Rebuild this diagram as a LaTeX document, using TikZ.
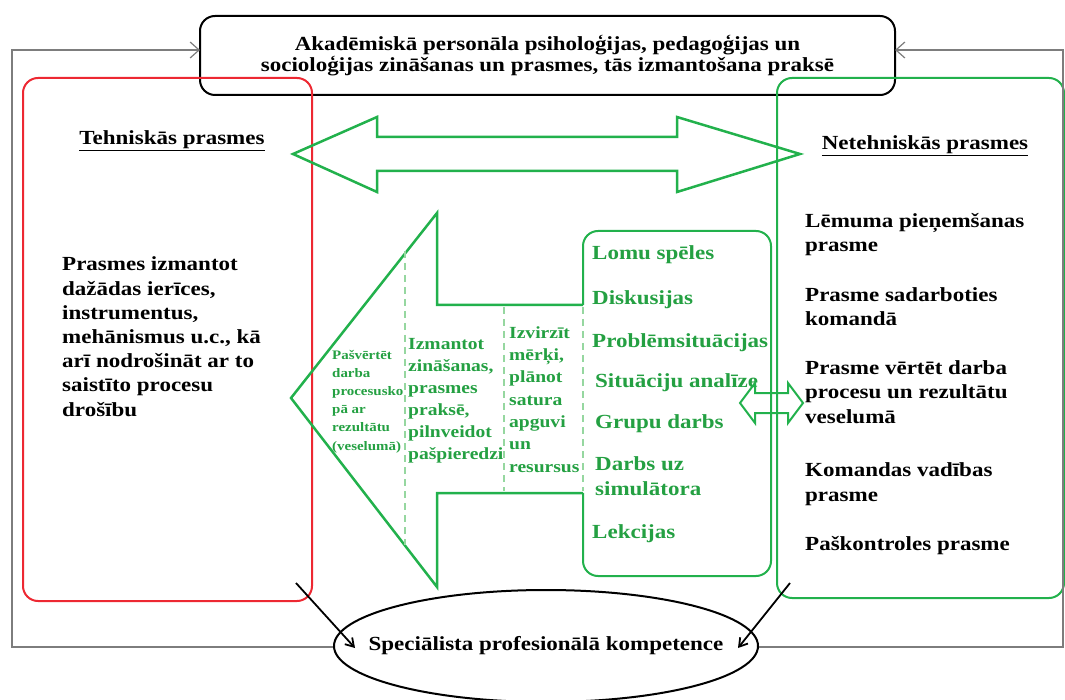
\documentclass[tikz,border=0pt]{standalone}
\usepackage{fontspec}
\setmainfont{Liberation Serif}[FakeStretch=1.15]
\usetikzlibrary{arrows.meta,shapes.geometric}
\definecolor{gbox}{RGB}{34,177,76}
\definecolor{gtxt}{RGB}{36,160,66}
\definecolor{gdash}{RGB}{150,215,160}
\definecolor{rbox}{RGB}{237,40,50}
\definecolor{gline}{RGB}{125,125,125}
\tikzset{
  bigtext/.style={font=\bfseries\fontsize{20}{24.2}\selectfont, align=left, anchor=base west, inner sep=0pt},
  gtext/.style={bigtext, text=gtxt},
  arrowline/.style={draw=gbox, line width=2.5pt, line join=miter},
  dashline/.style={draw=gdash, line width=1.5pt, dash pattern=on 7pt off 5pt},
  loopline/.style={draw=gline, line width=1.6pt, -{Straight Barb[length=9pt,width=16pt,line width=1.2pt]}},
  blackarrow/.style={draw=black, line width=1.8pt, -{Straight Barb[length=8pt,width=10pt]}},
}
\begin{document}
\begin{tikzpicture}[x=1pt,y=-1pt]
\useasboundingbox (0,0) rectangle (1065,700);

% top box
\node[draw, line width=2pt, rounded corners=15pt, minimum width=695pt, minimum height=79pt,
      align=center, inner sep=0pt, font=\bfseries\fontsize{20}{21.5}\selectfont] (top) at (547.5,55.5)
  {Akadēmiskā personāla psiholoģijas, pedagoģijas un\\socioloģijas zināšanas un prasmes, tās izmantošana praksē};

% side boxes
\node[draw=rbox, line width=2pt, rounded corners=15pt, minimum width=289pt, minimum height=523pt, anchor=north west] (tech) at (22,77) {};
\node[draw=gbox, line width=2pt, rounded corners=15pt, minimum width=287pt, minimum height=520pt, anchor=north west] (netech) at (776,77) {};

% titles
\node[bigtext, anchor=base] (tt) at (172,145) {\underline{Tehniskās prasmes}};
\node[bigtext, anchor=base] (nt) at (925,150) {\underline{Netehniskās prasmes}};

% left body (anchor = baseline of the last line)
\node[bigtext] (tbody) at (62,416) {Prasmes izmantot\\dažādas ierīces,\\instrumentus,\\mehānismus u.c., kā\\arī nodrošināt ar to\\saistīto procesu\\drošību};

% right items
\node[bigtext] (n1) at (805,252) {Lēmuma pieņemšanas\\prasme};
\node[bigtext] (n2) at (805,326) {Prasme sadarboties\\komandā};
\node[bigtext] (n3) at (805,423) {Prasme vērtēt darba\\procesu un rezultātu\\veselumā};
\node[bigtext] (n4) at (805,501) {Komandas vadības\\prasme};
\node[bigtext] (n5) at (805,550) {Paškontroles prasme};

% big double arrow
\draw[arrowline] (293,154) -- (377,117) -- (377,137) -- (677,137) -- (677,117) -- (800,154)
  -- (677,192) -- (677,171) -- (377,171) -- (377,192) -- cycle;

% big left arrow
\draw[arrowline] (583,305) -- (437,305) -- (437,213) -- (291,398) -- (437,587) -- (437,493) -- (583,493);
\draw[dashline] (405,251) -- (405,545);
\draw[dashline] (504,307) -- (504,491);

% methods box
\draw[draw=gbox, line width=2pt, rounded corners=15pt] (583,305) |- (771,231) |- (583,576) -- (583,493);
\draw[dashline] (583,307) -- (583,491);

% methods text
\node[gtext] (m1) at (592,260) {Lomu spēles};
\node[gtext] (m2) at (592,305) {Diskusijas};
\node[gtext] (m3) at (592,348) {Problēmsituācijas};
\node[gtext] (m4) at (595,388) {Situāciju analīze};
\node[gtext] (m5) at (595,428) {Grupu darbs};
\node[gtext, font=\bfseries\fontsize{20}{25}\selectfont] (m6) at (595,495) {Darbs uz\\simulātora};
\node[gtext] (m7) at (592,538) {Lekcijas};

% arrow texts
\node[gtext, font=\bfseries\fontsize{13}{18.2}\selectfont] (a1) at (332,450) {Pašvērtēt\\darba\\procesusko\\pā ar\\rezultātu\\(veselumā)};
\node[gtext, font=\bfseries\fontsize{17}{22}\selectfont] (a2) at (408,459) {Izmantot\\zināšanas,\\prasmes\\praksē,\\pilnveidot\\pašpieredzi};
\node[gtext, font=\bfseries\fontsize{17}{22.3}\selectfont] (a3) at (509,472) {Izvirzīt\\mērķi,\\plānot\\satura\\apguvi\\un\\resursus};

% small double arrow
\draw[draw=gbox, line width=2pt, line join=miter] (740,403) -- (755,383) -- (755,393) -- (788,393) -- (788,383) -- (803,403)
  -- (788,423) -- (788,413) -- (755,413) -- (755,423) -- cycle;

% ellipse
\node[draw, ellipse, line width=2pt, minimum width=424pt, minimum height=112pt, inner sep=0pt] (ell) at (546,646) {};
\node[font=\bfseries\fontsize{20}{24}\selectfont, inner sep=0pt] (elltext) at (ell.center) {Speciālista profesionālā kompetence};

% loop lines
\coordinate (lb) at (12,647);
\coordinate (lt) at (12,50);
\coordinate (rb) at (1063,647);
\coordinate (rt) at (1063,50);
\coordinate (tl) at (200,50);
\coordinate (tr) at (895,50);
\draw[loopline] (ell.west |- lb) -- (lb) -- (lt) -- (tl);
\draw[loopline] (ell.east |- rb) -- (rb) -- (rt) -- (tr);

% black arrows
\coordinate (s1) at (296,583);
\coordinate (e1) at (355,648);
\coordinate (s2) at (790,583);
\coordinate (e2) at (738,648);
\draw[blackarrow] (s1) -- (e1);
\draw[blackarrow] (s2) -- (e2);
\end{tikzpicture}
\end{document}
